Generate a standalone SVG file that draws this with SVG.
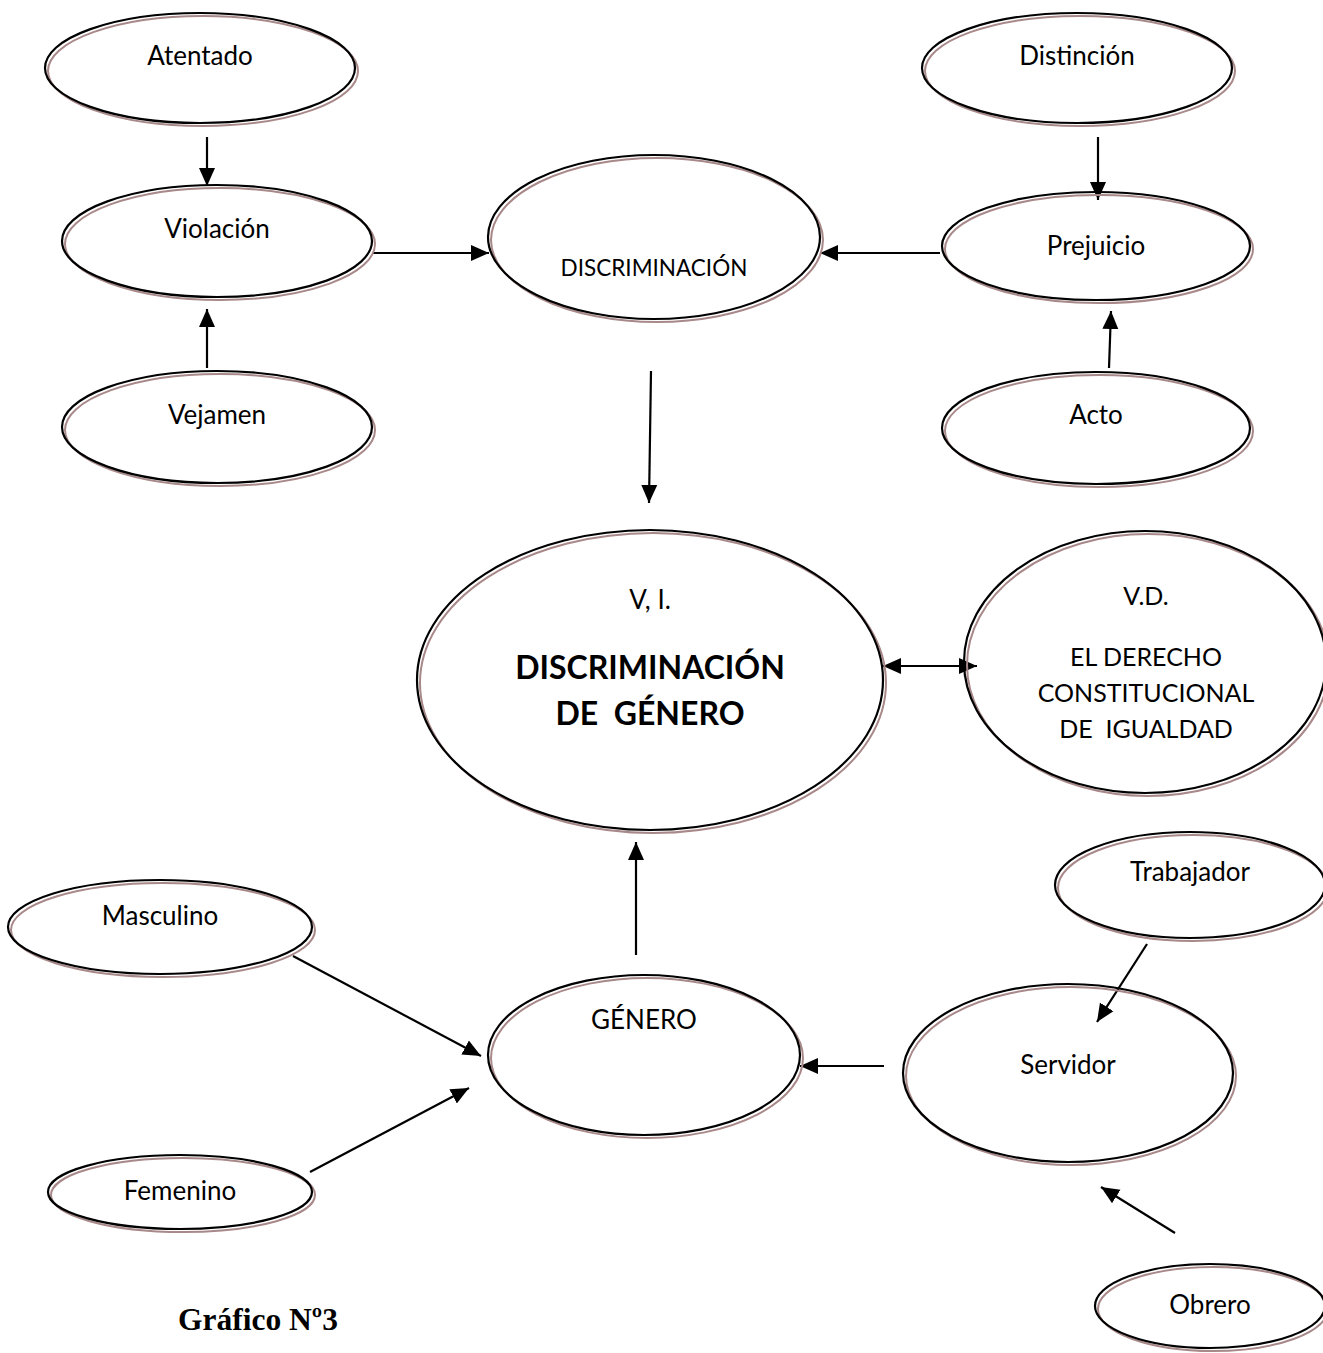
<svg xmlns="http://www.w3.org/2000/svg" width="1323" height="1353" viewBox="0 0 1323 1353">
  <style>
    .shadow { fill: none; stroke: #a88888; stroke-width: 2; }
    .outline { fill: none; stroke: #000000; stroke-width: 2.2; }
    .lbl { font-family: "Lato", "Open Sans", "Liberation Sans", sans-serif; font-size: 26px; fill: #000000; text-anchor: middle; }
    .sm { font-size: 22.5px; }
    .vd { font-size: 25px; }
    .big { font-size: 32px; font-weight: bold; }
    .title { font-family: "Liberation Serif", "Times New Roman", serif; font-size: 31.5px; font-weight: bold; fill: #000000; }
    .conn { stroke: #000000; stroke-width: 2.2; fill: none; marker-end: url(#head); }
  </style>
  <defs>
    <marker id="head" markerUnits="userSpaceOnUse" markerWidth="20" markerHeight="20" viewBox="0 0 20 20" refX="18" refY="10" orient="auto-start-reverse">
      <path d="M0,2 L18,10 L0,18 z" fill="#000000"/>
    </marker>
  </defs>
  <rect width="1323" height="1353" fill="#ffffff"/>

  <!-- connectors -->
  <g id="connectors">
    <line class="conn" x1="207" y1="137" x2="207" y2="186"/>
    <line class="conn" x1="207" y1="368" x2="207" y2="309"/>
    <line class="conn" x1="373" y1="253" x2="489" y2="253"/>
    <line class="conn" x1="940" y1="253" x2="820" y2="253"/>
    <line class="conn" x1="1098" y1="137" x2="1098" y2="200"/>
    <line class="conn" x1="1109" y1="368" x2="1111" y2="311"/>
    <line class="conn" x1="651" y1="371" x2="649" y2="503"/>
    <line class="conn" x1="883" y1="666" x2="977" y2="666" marker-start="url(#head)"/>
    <line class="conn" x1="636" y1="955" x2="636" y2="842"/>
    <line class="conn" x1="293" y1="956" x2="481" y2="1056"/>
    <line class="conn" x1="310" y1="1172" x2="469" y2="1088"/>
    <line class="conn" x1="884" y1="1066" x2="800" y2="1066"/>
    <line class="conn" x1="1147" y1="944" x2="1097" y2="1022"/>
    <line class="conn" x1="1175" y1="1233" x2="1101" y2="1187"/>
  </g>

  <!-- nodes: black outline with a brownish offset rim -->
  <g id="atentado">
    <ellipse class="shadow" cx="203" cy="71" rx="155" ry="55"/>
    <ellipse class="outline" cx="200" cy="68" rx="155" ry="55"/>
    <text class="lbl" x="200" y="65">Atentado</text>
  </g>
  <g id="violacion">
    <ellipse class="shadow" cx="220" cy="244" rx="155" ry="56"/>
    <ellipse class="outline" cx="217" cy="241" rx="155" ry="56"/>
    <text class="lbl" x="217" y="238">Violación</text>
  </g>
  <g id="vejamen">
    <ellipse class="shadow" cx="220" cy="430" rx="155" ry="56"/>
    <ellipse class="outline" cx="217" cy="427" rx="155" ry="56"/>
    <text class="lbl" x="217" y="424">Vejamen</text>
  </g>
  <g id="discriminacion">
    <ellipse class="shadow" cx="657" cy="240" rx="166" ry="82"/>
    <ellipse class="outline" cx="654" cy="237" rx="166" ry="82"/>
    <text class="lbl sm" x="654" y="276">DISCRIMINACIÓN</text>
  </g>
  <g id="distincion">
    <ellipse class="shadow" cx="1080" cy="71" rx="155" ry="55"/>
    <ellipse class="outline" cx="1077" cy="68" rx="155" ry="55"/>
    <text class="lbl" x="1077" y="65">Distinción</text>
  </g>
  <g id="prejuicio">
    <ellipse class="shadow" cx="1099" cy="249" rx="154" ry="54"/>
    <ellipse class="outline" cx="1096" cy="246" rx="154" ry="54"/>
    <text class="lbl" x="1096" y="255">Prejuicio</text>
  </g>
  <g id="acto">
    <ellipse class="shadow" cx="1099" cy="431" rx="154" ry="56"/>
    <ellipse class="outline" cx="1096" cy="428" rx="154" ry="56"/>
    <text class="lbl" x="1096" y="424">Acto</text>
  </g>
  <g id="discriminacion-genero">
    <ellipse class="shadow" cx="653" cy="683" rx="233" ry="150"/>
    <ellipse class="outline" cx="650" cy="680" rx="233" ry="150"/>
    <text class="lbl" x="650" y="609">V, I.</text>
    <text class="lbl big" x="650" y="679">DISCRIMINACIÓN</text>
    <text class="lbl big" x="650" y="725" xml:space="preserve">DE  GÉNERO</text>
  </g>
  <g id="derecho-igualdad">
    <ellipse class="shadow" cx="1148" cy="665" rx="181" ry="131"/>
    <ellipse class="outline" cx="1145" cy="662" rx="181" ry="131"/>
    <text class="lbl vd" x="1146" y="605">V.D.</text>
    <text class="lbl vd" x="1146" y="666">EL DERECHO</text>
    <text class="lbl vd" x="1146" y="702">CONSTITUCIONAL</text>
    <text class="lbl vd" x="1146" y="738" xml:space="preserve">DE  IGUALDAD</text>
  </g>
  <g id="masculino">
    <ellipse class="shadow" cx="163" cy="930" rx="152" ry="47"/>
    <ellipse class="outline" cx="160" cy="927" rx="152" ry="47"/>
    <text class="lbl" x="160" y="925">Masculino</text>
  </g>
  <g id="trabajador">
    <ellipse class="shadow" cx="1193" cy="888" rx="135" ry="53"/>
    <ellipse class="outline" cx="1190" cy="885" rx="135" ry="53"/>
    <text class="lbl" x="1190" y="881">Trabajador</text>
  </g>
  <g id="genero">
    <ellipse class="shadow" cx="647" cy="1058" rx="156" ry="80"/>
    <ellipse class="outline" cx="644" cy="1055" rx="156" ry="80"/>
    <text class="lbl" x="644" y="1029">GÉNERO</text>
  </g>
  <g id="servidor">
    <ellipse class="shadow" cx="1071" cy="1076" rx="165" ry="89"/>
    <ellipse class="outline" cx="1068" cy="1073" rx="165" ry="89"/>
    <text class="lbl" x="1068" y="1074">Servidor</text>
  </g>
  <g id="femenino">
    <ellipse class="shadow" cx="183" cy="1195" rx="132" ry="37"/>
    <ellipse class="outline" cx="180" cy="1192" rx="132" ry="37"/>
    <text class="lbl" x="180" y="1200">Femenino</text>
  </g>
  <g id="obrero">
    <ellipse class="shadow" cx="1213" cy="1309" rx="115" ry="42"/>
    <ellipse class="outline" cx="1210" cy="1306" rx="115" ry="42"/>
    <text class="lbl" x="1210" y="1314">Obrero</text>
  </g>

  <text class="title" x="178" y="1330">Gráfico Nº3</text>
</svg>
